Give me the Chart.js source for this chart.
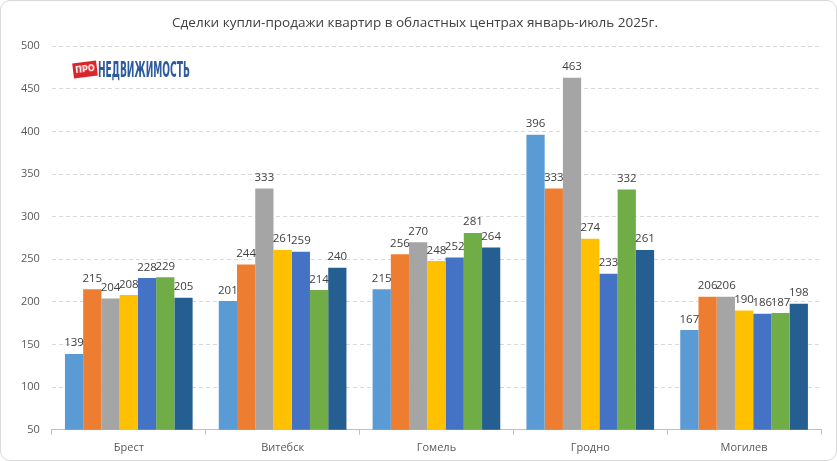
<!DOCTYPE html>
<html>
<head>
<meta charset="utf-8">
<script src="https://cdn.jsdelivr.net/npm/chart.js@4/dist/chart.umd.min.js"></script>
<style>
  html, body { margin: 0; padding: 0; background: #fff; }
  #wrap {
    position: relative;
    width: 835px; height: 459px;
    border: 1px solid #d9d9d9;
    border-radius: 10px;
    overflow: hidden;
  }
  canvas { position: absolute; left: 0; top: 0; }
  #pro {
    position: absolute; left: 72px; top: 61px;
    width: 24px; height: 15px; line-height: 15px;
    background: #d9262a; color: #fff;
    font-family: "DejaVu Sans Condensed", sans-serif; font-weight: bold;
    font-size: 9px; text-align: center;
    transform: rotate(-7deg);
  }
  #name {
    position: absolute; left: 97px; top: 57px;
    color: #2b5b9c; font-size: 21px; line-height: 24px;
    font-family: "DejaVu Sans Condensed", "Liberation Sans Narrow", sans-serif;
    font-weight: bold; white-space: nowrap;
    transform-origin: left center;
  }
</style>
</head>
<body>
<div id="wrap">
  <canvas id="c" width="835" height="459"></canvas>
  <div id="pro">ПРО</div>
  <div id="name">НЕДВИЖИМОСТЬ</div>
</div>
<script>
// данные
const cities = ['Брест', 'Витебск', 'Гомель', 'Гродно', 'Могилев'];
const months = ['январь', 'февраль', 'март', 'апрель', 'май', 'июнь', 'июль'];
const jan = [139, 201, 215, 396, 167];
const feb = [215, 244, 256, 333, 206];
const mar = [204, 333, 270, 463, 206];
const apr = [208, 261, 248, 274, 190];
const may = [228, 259, 252, 233, 186];
const jun = [229, 214, 281, 332, 187];
const jul = [205, 240, 264, 261, 198];
const colors = ['#5b9bd5', '#ed7d31', '#a5a5a5', '#ffc000', '#4472c4', '#70ad47', '#255e91'];

const series = [jan, feb, mar, apr, may, jun, jul];

// логотип сжать по ширине
const nm = document.getElementById('name');
nm.style.transform = 'scaleX(' + (92 / nm.offsetWidth) + ')';

// подписи над столбцами
const barLabels = {
    id: 'barLabels',
    afterDatasetsDraw(chart) {
        const ctx = chart.ctx;
        ctx.save();
        ctx.font = '11.5px "Open Sans", sans-serif';
        ctx.fillStyle = '#404040';
        ctx.textAlign = 'center';
        ctx.textBaseline = 'bottom';
        chart.data.datasets.forEach((ds, i) => {
            chart.getDatasetMeta(i).data.forEach((bar, j) => {
                ctx.fillText(ds.data[j], bar.x, bar.y - 5);
            });
        });
        ctx.restore();
    }
};

const ctx = document.getElementById('c').getContext('2d');
new Chart(ctx, {
    type: 'bar',
    data: {
        labels: cities,
        datasets: series.map((s, i) => ({
            label: months[i],
            data: s,
            backgroundColor: colors[i],
            borderWidth: 0,
            categoryPercentage: 0.83,
            barPercentage: 1.0
        }))
    },
    options: {
        responsive: false,
        animation: false,
        layout: { padding: { left: 8, right: 15, top: 0, bottom: 0 } },
        plugins: {
            legend: { display: false },
            tooltip: { enabled: false },
            title: {
                display: true,
                text: 'Сделки купли-продажи квартир в областных центрах январь-июль 2025г.',
                color: '#404040',
                font: { family: '"Open Sans", sans-serif', size: 13.5, weight: 'normal' },
                padding: { top: 14, bottom: 15 }
            }
        },
        scales: {
            x: {
                grid: { offset: true, drawOnChartArea: false, tickLength: 5, color: '#bfbfbf' },
                border: { color: '#bfbfbf' },
                ticks: { color: '#595959', font: { family: '"Open Sans", sans-serif', size: 11 }, padding: 6 }
            },
            y: {
                min: 50,
                max: 500,
                ticks: { stepSize: 50, color: '#595959', font: { family: '"Open Sans", sans-serif', size: 11 }, padding: 12 },
                grid: { color: '#d9d9d9', drawTicks: false },
                border: { display: false, dash: [4, 3] }
            }
        }
    },
    plugins: [barLabels]
});
</script>
</body>
</html>
